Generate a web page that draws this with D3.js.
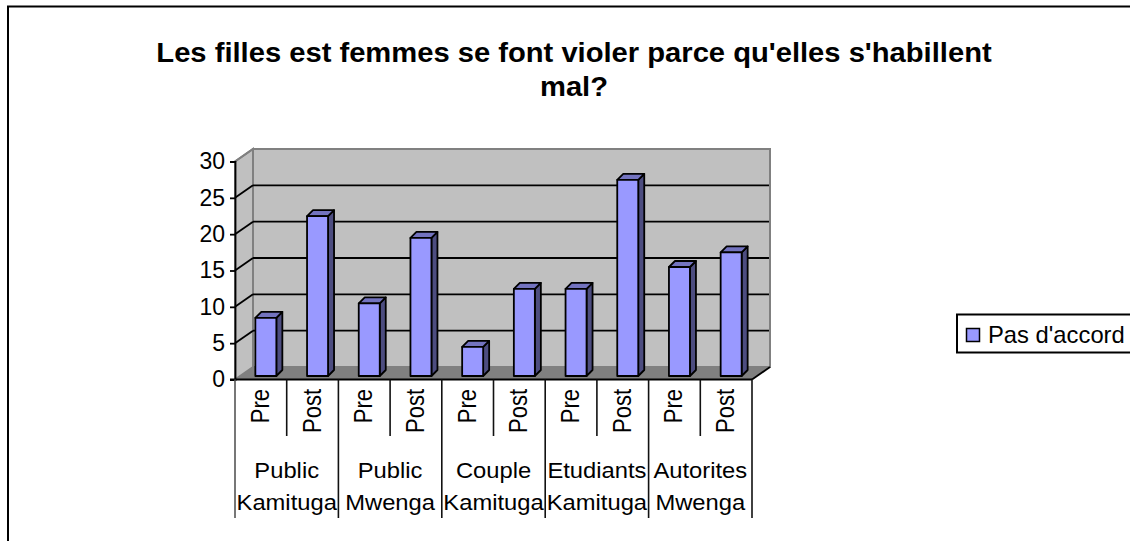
<!DOCTYPE html>
<html>
<head>
<meta charset="utf-8">
<script src="https://cdn.jsdelivr.net/npm/d3@7"></script>
<style>
  html, body { margin: 0; padding: 0; background: #fff; }
  text { font-family: "Liberation Sans", Arial, sans-serif; fill: #000; }
</style>
</head>
<body>
<div id="chart"></div>
<script>
const titleLines = ["Les filles est femmes se font violer parce qu'elles s'habillent", "mal?"];
const periods = ["Pre", "Post", "Pre", "Post", "Pre", "Post", "Pre", "Post", "Pre", "Post"];
const groups = [["Public", "Kamituga"], ["Public", "Mwenga"], ["Couple", "Kamituga"], ["Etudiants", "Kamituga"], ["Autorites", "Mwenga"]];
const values = [8, 22, 10, 19, 4, 12, 12, 27, 15, 17];
const yTicks = [0, 5, 10, 15, 20, 25, 30];
const seriesName = "Pas d'accord";

const width = 1130, height = 541;
const left = 235, right = 752, top0 = 161.5, bottom = 379.5;
const depthX = 18, depthY = -12.5;   // offset from front plane to back wall
const barDX = 6, barDY = -6;         // depth of each bar
const stretch = 1.08;                // the source image is a bit wider than tall
const lineW = 1.8;

const svg = d3.select("#chart").append("svg")
  .attr("width", width)
  .attr("height", height)
  .style("display", "block");

const x = d3.scaleBand().domain(d3.range(values.length)).range([left, right]);
const y = d3.scaleLinear().domain([0, 30]).range([bottom, top0]);

// outer chart border, runs off the page on the right and bottom
svg.append("rect")
  .attr("x", 8).attr("y", 6.5)
  .attr("width", width + 20).attr("height", height + 20)
  .attr("fill", "#fff").attr("stroke", "#000").attr("stroke-width", 2);

// title
svg.append("g").selectAll("text")
  .data(titleLines)
  .join("text")
  .attr("transform", (d, i) => `translate(574,${62 + i * 34}) scale(${stretch},1)`)
  .attr("text-anchor", "middle")
  .attr("font-size", 27)
  .attr("font-weight", "bold")
  .text(d => d);

const wall = d3.line();

// side wall, back wall, floor
svg.append("path")
  .attr("d", wall([[left, y(0)], [left + depthX, y(0) + depthY], [left + depthX, y(30) + depthY], [left, y(30)]]) + "Z")
  .attr("fill", "#c0c0c0").attr("stroke", "#808080").attr("stroke-width", 2);
svg.append("path")
  .attr("d", wall([[left + depthX, y(0) + depthY], [right + depthX, y(0) + depthY], [right + depthX, y(30) + depthY], [left + depthX, y(30) + depthY]]) + "Z")
  .attr("fill", "#c0c0c0").attr("stroke", "#808080").attr("stroke-width", 2);
svg.append("path")
  .attr("d", wall([[left, y(0)], [right, y(0)], [right + depthX, y(0) + depthY], [left + depthX, y(0) + depthY]]) + "Z")
  .attr("fill", "#808080");

// gridlines on the back wall and down the side wall
const grid = yTicks.filter(d => d > 0 && d < 30);
svg.append("g").selectAll("line")
  .data(grid)
  .join("line")
  .attr("x1", left + depthX).attr("x2", right + depthX - 1)
  .attr("y1", d => y(d) + depthY).attr("y2", d => y(d) + depthY)
  .attr("stroke", "#000").attr("stroke-width", lineW);
svg.append("g").selectAll("line")
  .data(yTicks.filter(d => d > 0))
  .join("line")
  .attr("x1", left).attr("x2", left + depthX)
  .attr("y1", d => y(d)).attr("y2", d => y(d) + depthY)
  .attr("stroke", d => d === 30 ? "#808080" : "#000").attr("stroke-width", lineW);

// floor edge on the right
svg.append("line")
  .attr("x1", right).attr("x2", right + depthX)
  .attr("y1", y(0)).attr("y2", y(0) + depthY)
  .attr("stroke", "#000").attr("stroke-width", lineW);

// bars: front, side and top faces
const barWidth = 21;
const barX = i => x(i) + x.bandwidth() / 2 - barWidth / 2 + 5;
const barBase = 3.5; // bars stand slightly back from the front edge
const bars = svg.append("g").selectAll("g")
  .data(values)
  .join("g")
  .attr("stroke", "#000")
  .attr("stroke-width", lineW)
  .attr("stroke-linejoin", "round");

bars.append("path")
  .attr("fill", "#4d4d80")
  .attr("d", (d, i) => {
    const x1 = barX(i) + barWidth, yb = y(0) - barBase, yt = yb - (y(0) - y(d));
    return wall([[x1, yb], [x1 + barDX, yb + barDY], [x1 + barDX, yt + barDY], [x1, yt]]) + "Z";
  });
bars.append("path")
  .attr("fill", "#7373bf")
  .attr("d", (d, i) => {
    const x0 = barX(i), yt = y(0) - barBase - (y(0) - y(d));
    return wall([[x0, yt], [x0 + barDX, yt + barDY], [x0 + barWidth + barDX, yt + barDY], [x0 + barWidth, yt]]) + "Z";
  });
bars.append("rect")
  .attr("fill", "#9999ff")
  .attr("x", (d, i) => barX(i))
  .attr("y", d => y(d) - barBase)
  .attr("width", barWidth)
  .attr("height", d => y(0) - y(d));

// y axis
const yAxis = svg.append("g")
  .attr("transform", `translate(${left},0)`)
  .call(d3.axisLeft(y).tickValues(yTicks).tickSize(5).tickPadding(5));
yAxis.selectAll(".domain, line").attr("stroke", "#000").attr("stroke-width", lineW);
yAxis.selectAll("text")
  .attr("font-size", 23)
  .attr("font-family", '"Liberation Sans", Arial, sans-serif')
  .attr("fill", "#000");

// x axis baseline
svg.append("line")
  .attr("x1", left - 5).attr("x2", right)
  .attr("y1", y(0)).attr("y2", y(0))
  .attr("stroke", "#000").attr("stroke-width", lineW);

// category separators: short ones between Pre/Post, long ones between groups
svg.append("g").selectAll("line")
  .data(d3.range(values.length + 1))
  .join("line")
  .attr("x1", i => left + i * x.step()).attr("x2", i => left + i * x.step())
  .attr("y1", y(0))
  .attr("y2", i => i % 2 === 0 ? 518 : 436)
  .attr("stroke", (d, i) => i === 0 ? "#555" : "#111").attr("stroke-width", 1.6);

svg.append("g").selectAll("text")
  .data(periods)
  .join("text")
  .attr("transform", (d, i) => `translate(${x(i) + x.bandwidth() / 2 + 8},389) rotate(-90) scale(1,1.15)`)
  .attr("text-anchor", "end")
  .attr("font-size", 22)
  .text(d => d);

const groupLabels = svg.append("g").selectAll("g")
  .data(groups)
  .join("g")
  .attr("transform", (d, i) => `translate(${left + (i * 2 + 1) * x.step()},0)`);
groupLabels.selectAll("text")
  .data(d => d)
  .join("text")
  .attr("transform", (d, i) => `translate(0,${478 + i * 32}) scale(${stretch},1)`)
  .attr("text-anchor", "middle")
  .attr("font-size", 22)
  .text(d => d);

// legend
const legend = svg.append("g");
legend.append("rect")
  .attr("x", 957).attr("y", 314.5)
  .attr("width", 200).attr("height", 38)
  .attr("fill", "#fff").attr("stroke", "#000").attr("stroke-width", 2);
legend.append("rect")
  .attr("x", 966.5).attr("y", 328.5)
  .attr("width", 13).attr("height", 13)
  .attr("fill", "#9999ff").attr("stroke", "#000").attr("stroke-width", 1.5);
legend.append("text")
  .attr("transform", "translate(988,343) scale(1.035,1)")
  .attr("font-size", 23)
  .text(seriesName);
</script>
</body>
</html>
